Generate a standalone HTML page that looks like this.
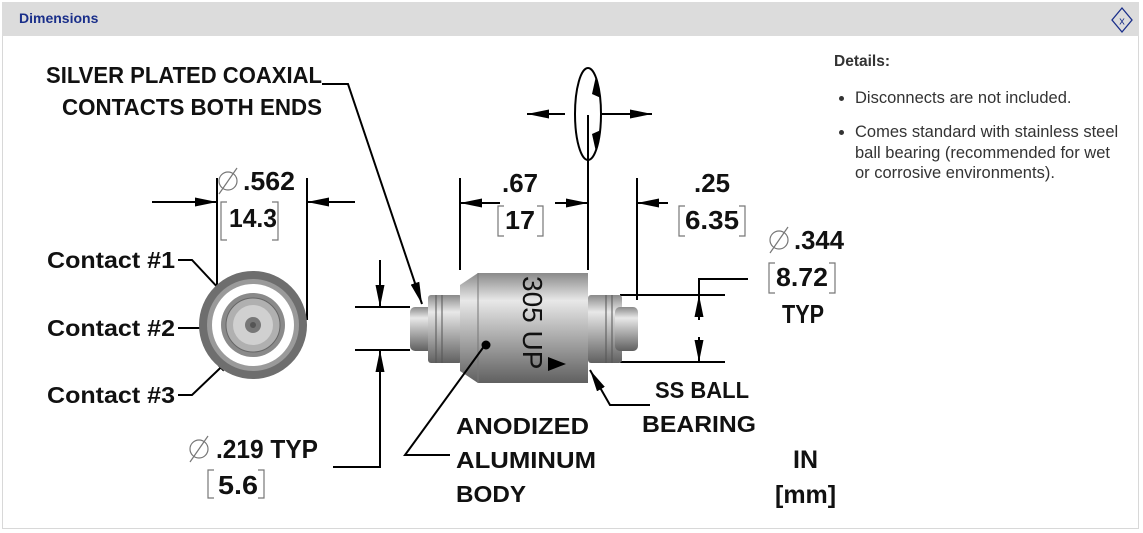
<!DOCTYPE html>
<html><head><meta charset="utf-8"><style>
body{margin:0;width:1143px;height:533px;background:#fff;overflow:hidden;font-family:"Liberation Sans",sans-serif}
.frame{position:absolute;left:2px;top:2px;width:1137px;height:527px;border:1px solid #d8d8d8;box-sizing:border-box}
.hdr{position:absolute;left:2px;top:2px;width:1137px;height:34px;background:#dcdcdc}
.hdr span{position:absolute;left:17px;top:8px;font-weight:bold;font-size:14px;color:#1a2f8a}
.det{position:absolute;left:834px;top:51px;width:290px;font-size:16.5px;color:#333;line-height:20.5px}
.det b{font-size:15.5px}
.det ul{margin:15px 0 0 0;padding-left:21px}
.det li{margin-bottom:14px}
</style></head><body>
<div class="frame"></div>
<div class="hdr"><span>Dimensions</span>
<svg style="position:absolute;left:1108px;top:4px" width="24" height="28"><polygon points="12,2 22,14 12,26 2,14" fill="none" stroke="#1a2f8a" stroke-width="1.3"/><text x="12" y="18.5" font-size="11" text-anchor="middle" fill="#1a2f8a" font-family="Liberation Sans">x</text></svg>
</div>
<div class="det"><b>Details:</b>
<ul><li>Disconnects are not included.</li><li>Comes standard with stainless steel ball bearing (recommended for wet or corrosive environments).</li></ul></div>
<svg style="position:absolute;left:0;top:0" width="1143" height="533">
<defs>
<marker id="a" viewBox="0 0 22 9" refX="22" refY="4.5" markerWidth="22" markerHeight="9" markerUnits="userSpaceOnUse" orient="auto"><path d="M0,0L22,4.5L0,9z" fill="#000"/></marker>
<linearGradient id="g" x1="0" y1="0" x2="0" y2="1"><stop offset="0" stop-color="#8a8a8a"/><stop offset=".25" stop-color="#e8e8e8"/><stop offset=".6" stop-color="#a8a8a8"/><stop offset="1" stop-color="#606060"/></linearGradient>
</defs>
<g font-family="Liberation Sans" font-weight="bold" font-size="23" fill="#111">
<text x="46" y="83" textLength="276" lengthAdjust="spacingAndGlyphs">SILVER PLATED COAXIAL</text>
<text x="62" y="115" textLength="260" lengthAdjust="spacingAndGlyphs">CONTACTS BOTH ENDS</text>
<text x="47" y="268" textLength="128" lengthAdjust="spacingAndGlyphs">Contact #1</text>
<text x="47" y="336" textLength="128" lengthAdjust="spacingAndGlyphs">Contact #2</text>
<text x="47" y="403" textLength="128" lengthAdjust="spacingAndGlyphs">Contact #3</text>
<text x="243" y="190" font-size="26" textLength="52" lengthAdjust="spacingAndGlyphs">.562</text>
<text x="229" y="227" font-size="26" textLength="48" lengthAdjust="spacingAndGlyphs">14.3</text>
<text x="216" y="458" font-size="26" textLength="102" lengthAdjust="spacingAndGlyphs">.219 TYP</text>
<text x="218" y="494" font-size="26" textLength="40" lengthAdjust="spacingAndGlyphs">5.6</text>
<text x="502" y="192" font-size="26" textLength="36" lengthAdjust="spacingAndGlyphs">.67</text>
<text x="505" y="229" font-size="26" textLength="30" lengthAdjust="spacingAndGlyphs">17</text>
<text x="694" y="192" font-size="26" textLength="36" lengthAdjust="spacingAndGlyphs">.25</text>
<text x="685" y="229" font-size="26" textLength="54" lengthAdjust="spacingAndGlyphs">6.35</text>
<text x="794" y="249" font-size="26" textLength="50" lengthAdjust="spacingAndGlyphs">.344</text>
<text x="776" y="286" font-size="26" textLength="52" lengthAdjust="spacingAndGlyphs">8.72</text>
<text x="782" y="323" font-size="26" textLength="42" lengthAdjust="spacingAndGlyphs">TYP</text>
<text x="655" y="398" textLength="94" lengthAdjust="spacingAndGlyphs">SS BALL</text>
<text x="642" y="432" textLength="114" lengthAdjust="spacingAndGlyphs">BEARING</text>
<text x="456" y="434" textLength="133" lengthAdjust="spacingAndGlyphs">ANODIZED</text>
<text x="456" y="468" textLength="140" lengthAdjust="spacingAndGlyphs">ALUMINUM</text>
<text x="456" y="502" textLength="70" lengthAdjust="spacingAndGlyphs">BODY</text>
<text x="793" y="468" font-size="25">IN</text>
<text x="775" y="503" font-size="25">[mm]</text>
</g>
<g fill="none" stroke="#777" stroke-width="1.2">
<path d="M227,202h-6v38h6M272,202h6v38h-6"/>
<path d="M214,470h-6v28h6M258,470h6v28h-6"/>
<path d="M504,206h-6v30h6M537,206h6v30h-6"/>
<path d="M685,206h-6v30h6M739,206h6v30h-6"/>
<path d="M775,263h-6v30h6M829,263h6v30h-6"/>
<circle cx="228" cy="181" r="9"/><path d="M219,194l18,-26"/>
<circle cx="199" cy="449" r="9"/><path d="M190,462l18,-26"/>
<circle cx="779" cy="240" r="9"/><path d="M770,253l18,-26"/>
</g>
<g stroke="#000" stroke-width="2" fill="none">
<path d="M322,84h26l74,220" marker-end="url(#a)"/>
<path d="M217,178v134M307,178v142"/>
<path d="M152,202h65" marker-end="url(#a)"/><path d="M355,202h-48" marker-end="url(#a)"/>
<path d="M178,260h14l58,62" marker-end="url(#a)"/>
<path d="M178,328h64" marker-end="url(#a)"/>
<path d="M178,395h14l44,-42" marker-end="url(#a)"/>
<path d="M355,307h55M355,350h55"/>
<path d="M380,260v47" marker-end="url(#a)"/><path d="M333,467h47v-117" marker-end="url(#a)"/>
<path d="M460,178v92M588,115v155M637,178v122"/>
<path d="M500,203h-40" marker-end="url(#a)"/><path d="M555,203h33" marker-end="url(#a)"/><path d="M668,203h-31" marker-end="url(#a)"/>
<ellipse cx="588" cy="114" rx="13" ry="46"/>
<path d="M565,114h-38" marker-end="url(#a)"/><path d="M602,114h50" marker-end="url(#a)"/>
<path d="M620,295h105M620,362h105M748,279h-49v16"/>
<path d="M699,320v-25" marker-end="url(#a)"/><path d="M699,337v25" marker-end="url(#a)"/>
<path d="M650,405h-40l-20,-35" marker-end="url(#a)"/>
</g>
<path d="M596,76l5,22l-9,-4z M596,152l5,-22l-9,4z" fill="#000"/>
<circle cx="253" cy="325" r="54" fill="#6e6e6e"/>
<circle cx="253" cy="325" r="46" fill="#9a9a9a"/>
<circle cx="253" cy="325" r="41" fill="#fff"/>
<circle cx="253" cy="325" r="32" fill="#8a8a8a"/>
<circle cx="253" cy="325" r="27" fill="#b0b0b0" stroke="#666"/>
<circle cx="253" cy="325" r="20" fill="#d0d0d0"/>
<circle cx="253" cy="325" r="8" fill="#777"/>
<circle cx="253" cy="325" r="3" fill="#555"/>
<rect x="410" y="307" width="24" height="44" rx="5" fill="url(#g)"/>
<rect x="428" y="295" width="34" height="68" rx="3" fill="url(#g)"/>
<path d="M436,295v68M442,295v68" stroke="#555"/>
<path d="M478,273h110v110h-110l-18,-12v-86z" fill="url(#g)"/>
<path d="M478,273v110" stroke="#777"/>
<rect x="588" y="295" width="34" height="68" rx="3" fill="url(#g)"/>
<path d="M606,295v68M612,295v68" stroke="#555"/>
<rect x="615" y="307" width="23" height="44" rx="5" fill="url(#g)"/>
<text x="0" y="0" font-family="Liberation Sans" font-size="28" fill="#111" transform="translate(523,276) rotate(90)">305 UP</text>
<path d="M548,357l18,7l-18,7z" fill="#000"/>
<path d="M450,455h-45l80,-110" stroke="#000" stroke-width="2" fill="none"/>
<circle cx="486" cy="345" r="4.5" fill="#000"/>
</svg>
</body></html>
